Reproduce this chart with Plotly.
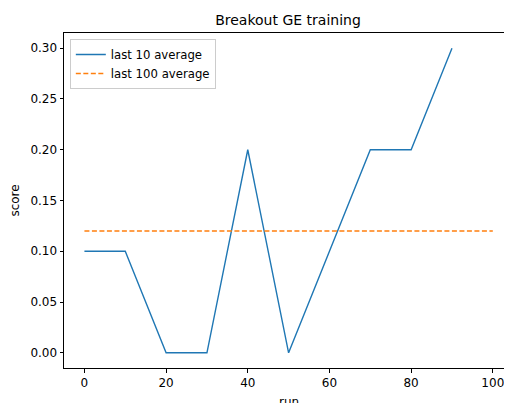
import plotly.graph_objects as go

runs = [0, 10, 20, 30, 40, 50, 60, 70, 80, 90]
last10 = [0.10, 0.10, 0.00, 0.00, 0.20, 0.00, 0.10, 0.20, 0.20, 0.30]
runs100 = [0, 100]
last100 = [0.12, 0.12]
xticks = [0, 20, 40, 60, 80, 100]
yticks = [0.00, 0.05, 0.10, 0.15, 0.20, 0.25, 0.30]

fig = go.Figure()
fig.add_trace(go.Scatter(x=runs, y=last10, mode="lines", name="last 10 average",
                         line=dict(color="#1f77b4", width=1.4)))
fig.add_trace(go.Scatter(x=runs100, y=last100, mode="lines", name="last 100 average",
                         line=dict(color="#ff7f0e", width=1.4, dash="5px,2.5px")))

# the page body has an 8px default margin, so the figure is offset by 8px
W, H = 504, 395
T, B = 25, 35
plot_h = H - T - B
font = dict(family="DejaVu Sans", size=12, color="#000000")
fig.update_layout(
    width=W, height=H,
    margin=dict(l=56, r=0, t=T, b=B, autoexpand=False),
    paper_bgcolor="white", plot_bgcolor="white",
    font=font,
    title=dict(text="Breakout GE training", xref="paper", x=0.5, xanchor="center",
               yref="container", y=1 - 12 / H, yanchor="middle",
               font=dict(family="DejaVu Sans", size=14, color="#000000")),
    showlegend=True,
    legend=dict(x=0.013, y=0.982, xanchor="left", yanchor="top",
                bgcolor="rgba(255,255,255,0.8)", bordercolor="#cccccc", borderwidth=1,
                font=dict(family="DejaVu Sans", size=11.7, color="#000000"),
                tracegroupgap=0, itemwidth=30),
    xaxis=dict(range=[-5, 104.7], tickvals=xticks, ticktext=[str(v) for v in xticks],
               showgrid=False, zeroline=False, showline=True, linecolor="black", linewidth=1,
               mirror=True, ticks="outside", ticklen=3.5, tickcolor="black", automargin=False),
    yaxis=dict(range=[-0.015, 0.315], tickvals=yticks, ticktext=[f"{v:.2f}" for v in yticks],
               showgrid=False, zeroline=False, showline=True, linecolor="black", linewidth=1,
               mirror=False, ticks="outside", ticklen=3.5, tickcolor="black", automargin=False,
               title=dict(text="score", standoff=8, font=font)),
    annotations=[dict(text="run", xref="x", x=50, yref="paper", y=-34 / plot_h,
                      xanchor="center", yanchor="middle", showarrow=False, font=font)],
)
fig.write_html("out.html")
